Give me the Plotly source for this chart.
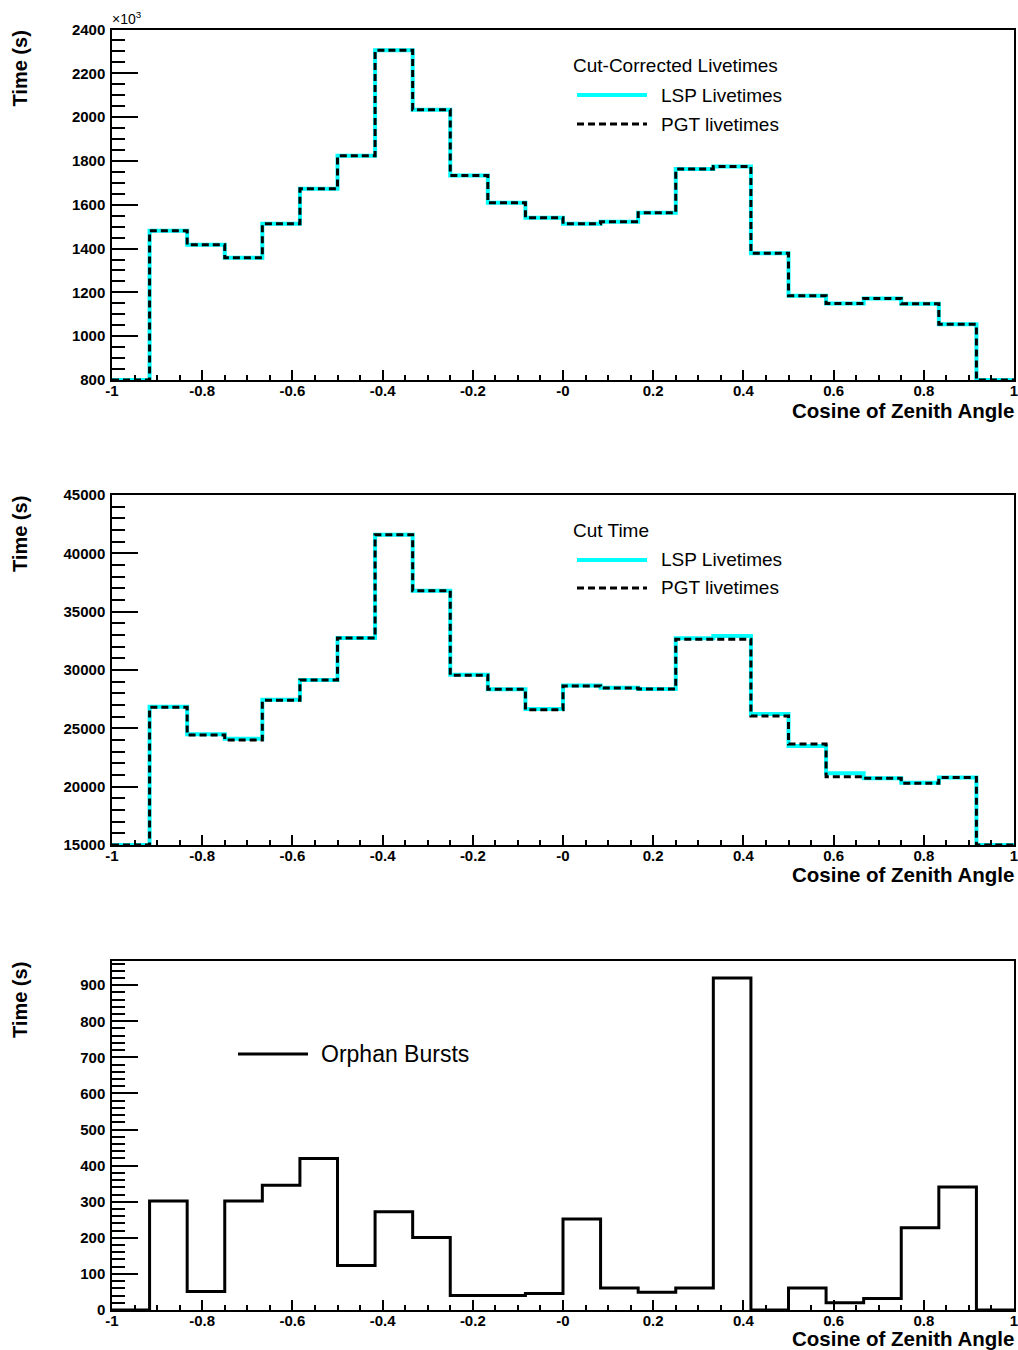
import numpy as np
import plotly.graph_objects as go

# ---------------- data ----------------
bin_edges = np.linspace(-1.0, 1.0, 25)  # 24 bins of cos(zenith)

# Panel 1: cut-corrected livetimes (units of 10^3 s)
lsp_corrected = [0, 1481, 1417, 1358, 1513, 1673, 1824, 2305, 2034, 1734, 1609, 1541,
                 1513, 1522, 1564, 1763, 1775, 1379, 1185, 1149, 1172, 1148, 1055, 0]
pgt_corrected = [0, 1481, 1417, 1358, 1513, 1673, 1824, 2305, 2034, 1734, 1609, 1541,
                 1513, 1522, 1564, 1763, 1775, 1379, 1185, 1149, 1172, 1148, 1055, 0]

# Panel 2: cut time (s)
lsp_cut = [0, 26850, 24500, 24100, 27450, 29150, 32750, 41600, 36800, 29600, 28350, 26650,
           28680, 28470, 28380, 32720, 32920, 26230, 23490, 21150, 20720, 20340, 20780, 0]
pgt_cut = [0, 26800, 24420, 24000, 27400, 29150, 32750, 41600, 36800, 29550, 28350, 26600,
           28620, 28450, 28380, 32640, 32640, 26060, 23660, 20860, 20720, 20300, 20780, 0]

# Panel 3: orphan bursts (s)
orphan = [0, 302, 51, 302, 346, 420, 123, 272, 201, 40, 40, 46,
          252, 61, 49, 61, 920, 0, 61, 20, 32, 228, 341, 0]

x_ticks = [-1, -0.8, -0.6, -0.4, -0.2, 0, 0.2, 0.4, 0.6, 0.8, 1]
x_ticklabels = ["-1", "-0.8", "-0.6", "-0.4", "-0.2", "-0", "0.2", "0.4", "0.6", "0.8", "1"]

y1_range = [800, 2400]
y2_range = [15000, 45000]
y3_range = [0, 967]

# ---------------- helpers ----------------
W, H = 1018, 1350
FONT = "Liberation Sans, Arial, Helvetica, sans-serif"
CYAN = "#00FFFF"
DASH = "7px,4px"


def step_xy(values, ymin):
    v = np.maximum(np.asarray(values, dtype=float), ymin)
    y = np.append(v, v[-1])
    return bin_edges, y


def px(xp):
    return xp / W


def py(yp):
    return 1 - yp / H


fig = go.Figure()

# Panel 1
x, y = step_xy(lsp_corrected, y1_range[0])
fig.add_trace(go.Scatter(x=x, y=y, mode="lines", line=dict(shape="hv", color=CYAN, width=4),
                         xaxis="x", yaxis="y", showlegend=False))
x, y = step_xy(pgt_corrected, y1_range[0])
fig.add_trace(go.Scatter(x=x, y=y, mode="lines", line=dict(shape="hv", color="black", width=3, dash=DASH),
                         xaxis="x", yaxis="y", showlegend=False))
# Panel 2
x, y = step_xy(lsp_cut, y2_range[0])
fig.add_trace(go.Scatter(x=x, y=y, mode="lines", line=dict(shape="hv", color=CYAN, width=4),
                         xaxis="x2", yaxis="y2", showlegend=False))
x, y = step_xy(pgt_cut, y2_range[0])
fig.add_trace(go.Scatter(x=x, y=y, mode="lines", line=dict(shape="hv", color="black", width=3, dash=DASH),
                         xaxis="x2", yaxis="y2", showlegend=False))
# Panel 3
x, y = step_xy(orphan, y3_range[0])
fig.add_trace(go.Scatter(x=x, y=y, mode="lines", line=dict(shape="hv", color="black", width=3),
                         xaxis="x3", yaxis="y3", showlegend=False))

panels = [(29.5, 380), (495, 845), (961, 1310)]
title_offsets = [30, 29, 28]
xdom = [px(112), px(1014)]

tickfont = dict(family=FONT, size=15, color="black", weight="bold")


def xaxis_def(anchor):
    return dict(domain=xdom, range=[-1, 1], anchor=anchor, automargin=False,
                tickmode="array", tickvals=x_ticks, ticktext=x_ticklabels,
                ticks="inside", ticklen=10, tickwidth=1.5, tickcolor="black",
                minor=dict(tickmode="array", tickvals=list(np.round(np.arange(-1, 1.0001, 0.05), 3)),
                           ticks="inside", ticklen=5, tickwidth=1.5, tickcolor="black", showgrid=False),
                showline=True, linecolor="black", linewidth=1.5, mirror=True,
                showgrid=False, zeroline=False, tickfont=tickfont, ticklabelstandoff=-4,
                ticklabeloverflow="allow")


def yaxis_def(anchor, top, bottom, rng, major, minor):
    return dict(domain=[py(bottom), py(top)], range=rng, anchor=anchor, automargin=False,
                tickmode="array", tickvals=list(np.arange(rng[0], rng[1] + 1, major)),
                ticks="inside", ticklen=26, tickwidth=1.5, tickcolor="black",
                minor=dict(tickmode="array", tickvals=list(np.arange(rng[0], rng[1] + 1, minor)),
                           ticks="inside", ticklen=13, tickwidth=1.5, tickcolor="black", showgrid=False),
                showline=True, linecolor="black", linewidth=1.5, mirror=True,
                showgrid=False, zeroline=False, tickfont=tickfont, tickformat="d",
                ticklabelstandoff=2, ticklabeloverflow="allow")


fig.update_layout(
    template="none",
    width=W, height=H, margin=dict(l=0, r=0, t=0, b=0, autoexpand=False),
    paper_bgcolor="white", plot_bgcolor="white",
    xaxis=xaxis_def("y"), xaxis2=xaxis_def("y2"), xaxis3=xaxis_def("y3"),
    yaxis=yaxis_def("x", panels[0][0], panels[0][1], y1_range, 200, 50),
    yaxis2=yaxis_def("x2", panels[1][0], panels[1][1], y2_range, 5000, 1000),
    yaxis3=yaxis_def("x3", panels[2][0], panels[2][1], y3_range, 100, 20),
)
fig.update_layout(yaxis3=dict(tickvals=list(range(0, 901, 100)),
                              minor=dict(tickvals=list(range(0, 961, 20)))))

annotations = []
shapes = []

# axis titles
for (top, bottom), off in zip(panels, title_offsets):
    annotations.append(dict(text="<b>Time (s)</b>", x=px(20), y=py(top - 1), xref="paper", yref="paper",
                            xanchor="center", yanchor="top", textangle=-90, showarrow=False,
                            font=dict(family=FONT, size=20, color="black")))
    annotations.append(dict(text="<b>Cosine of Zenith Angle</b>", x=px(1016), y=py(bottom + off),
                            xref="paper", yref="paper", xanchor="right", yanchor="middle", showarrow=False,
                            font=dict(family=FONT, size=20.5, color="black")))

# x10^3 multiplier
annotations.append(dict(text="×10<sup>3</sup>", x=px(110), y=py(18), xref="paper", yref="paper",
                        xanchor="left", yanchor="middle", showarrow=False,
                        font=dict(family=FONT, size=14, color="black")))


def legend_entry(y_px, x0, x1, xt, label, color, width, size, dash=None):
    shapes.append(dict(type="line", xref="paper", yref="paper", x0=px(x0), x1=px(x1),
                       y0=py(y_px), y1=py(y_px), line=dict(color=color, width=width, dash=dash)))
    annotations.append(dict(text=label, x=px(xt), y=py(y_px), xref="paper", yref="paper",
                            xanchor="left", yanchor="middle", showarrow=False,
                            font=dict(family=FONT, size=size, color="black")))


# Panel 1 legend
annotations.append(dict(text="Cut-Corrected Livetimes", x=px(571), y=py(65), xref="paper", yref="paper",
                        xanchor="left", yanchor="middle", showarrow=False,
                        font=dict(family=FONT, size=19, color="black")))
legend_entry(95, 577, 647, 659, "LSP Livetimes", CYAN, 4, 19)
legend_entry(124, 577, 647, 659, "PGT livetimes", "black", 3, 19, DASH)
# Panel 2 legend
annotations.append(dict(text="Cut Time", x=px(571), y=py(530), xref="paper", yref="paper",
                        xanchor="left", yanchor="middle", showarrow=False,
                        font=dict(family=FONT, size=19, color="black")))
legend_entry(560, 577, 647, 659, "LSP Livetimes", CYAN, 4, 19)
legend_entry(588, 577, 647, 659, "PGT livetimes", "black", 3, 19, DASH)
# Panel 3 legend
legend_entry(1054, 238, 308, 319, "Orphan Bursts", "black", 3, 23)

fig.update_layout(annotations=annotations, shapes=shapes)

fig.write_html("out.html", post_script="document.body.style.margin='0';")
